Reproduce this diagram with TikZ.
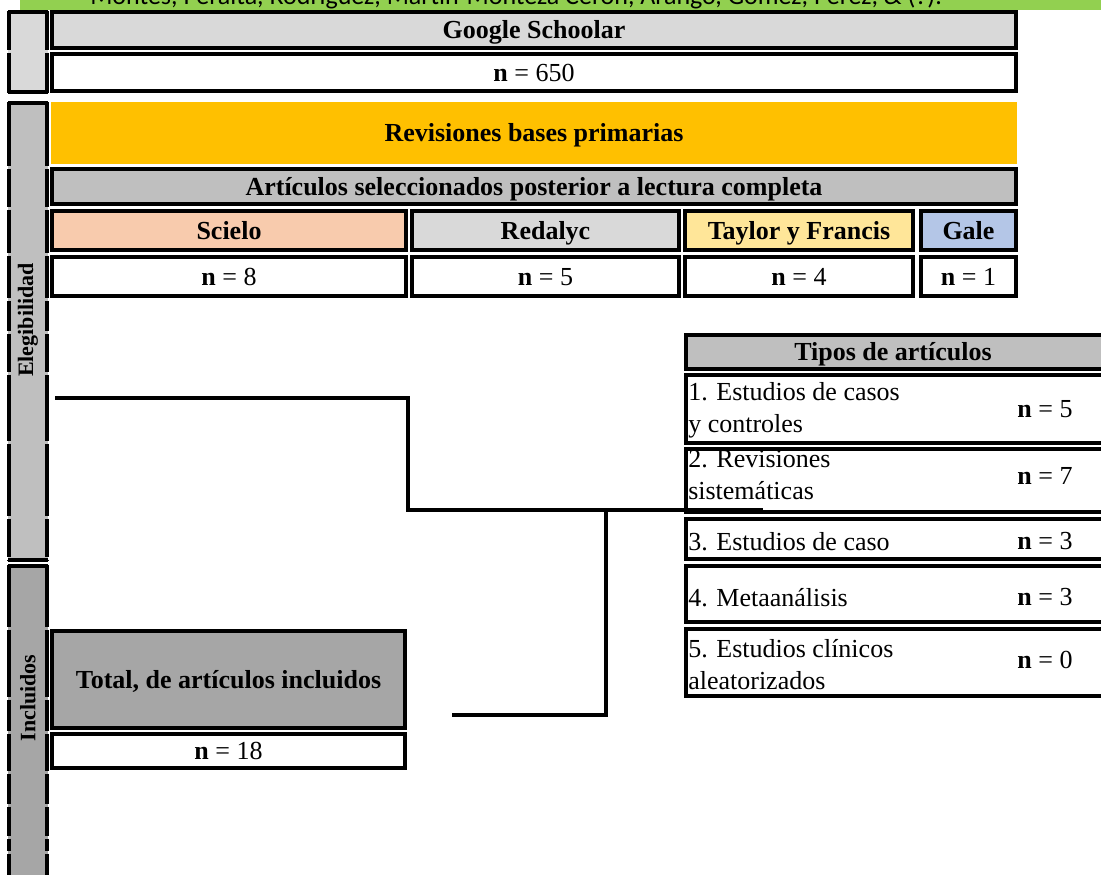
\documentclass[tikz,border=0pt]{standalone}
\usepackage{fontspec}
\setmainfont{Liberation Serif}
\newfontfamily\bannerfont{Carlito}
\usetikzlibrary{fit}
\definecolor{bannergreen}{HTML}{92D050}
\definecolor{orangehd}{HTML}{FFC000}
\definecolor{grayB}{HTML}{BFBFBF}
\definecolor{grayD}{HTML}{D9D9D9}
\definecolor{grayA}{HTML}{A6A6A6}
\definecolor{scielocol}{HTML}{F8CBAD}
\definecolor{taylorcol}{HTML}{FFE699}
\definecolor{galecol}{HTML}{B4C6E7}
\begin{document}
\begin{tikzpicture}[x=0.75pt,y=-0.75pt,
  box/.style={draw=black, line width=2.3pt, inner sep=0pt},
  plainbox/.style={inner sep=0pt},
  hd/.style={font=\fontsize{19.5}{23}\selectfont\bfseries, text height=13pt, text depth=0pt, inner sep=0pt},
  txt/.style={font=\fontsize{19.5}{24}\selectfont, text height=13pt, text depth=0pt, inner sep=0pt},
  rowtxt/.style={font=\fontsize{19.5}{24}\selectfont, align=left, anchor=west, inner sep=0pt},
  side/.style={font=\fontsize{16.5}{19}\selectfont\bfseries, rotate=90},
  conn/.style={draw=black, line width=2.5pt},
  barline/.style={draw=black, line width=2.3pt}]

\useasboundingbox (0,0) rectangle (1101,875);

% banner (cut off at the top)
\begin{scope}
\clip (0,0) rectangle (1101,875);
\fill[bannergreen] (20,0) rectangle (1101,10);
\node[anchor=base west, inner sep=0pt, font=\bannerfont\fontsize{19.5}{23}\selectfont] (banner) at (90,4)
  {Montes, Peralta, Rodríguez, Martín-Monteza Cerón, Arango, Gómez, Pérez, \& (?).};
\end{scope}

% left bars
\fill[grayD] (8,11) rectangle (48,93);
\draw[barline] (8,12) -- (48,12);
\draw[barline] (8,92) -- (48,92);
\foreach \a/\b in {11/49.5, 52.5/93} {
  \draw[barline] (9,\a) -- (9,\b);
  \draw[barline] (47,\a) -- (47,\b);
}
\fill[grayB] (8,102) rectangle (48,561);
\draw[barline] (8,103) -- (48,103);
\draw[barline] (8,560) -- (48,560);
\foreach \a/\b in {102/165.5, 168.5/206.5, 209.5/252.5, 255.5/297.5, 300.5/330.5, 333.5/371.5, 374.5/440.5, 443.5/515.5, 518.5/556.5, 559.5/561} {
  \draw[barline] (9,\a) -- (9,\b);
  \draw[barline] (47,\a) -- (47,\b);
}
\fill[grayA] (8,565) rectangle (48,880);
\draw[barline] (8,566) -- (48,566);
\foreach \a/\b in {565/626.5, 629.5/696.5, 699.5/730.5, 733.5/770.5, 773.5/803.5, 806.5/835.5, 838.5/850.5, 853.5/880} {
  \draw[barline] (9,\a) -- (9,\b);
  \draw[barline] (47,\a) -- (47,\b);
}
\node[side] (eleg) at (28,320) {Elegibilidad};
\node[side] (incl) at (28,698) {Incluidos};

% identification
\node[box, fill=grayD, fit={(52,12) (1016,48)}] (google) {};
\node[hd] (googleT) at (google.center) {Google Schoolar};
\node[box, fit={(52,54) (1016,91)}] (n650) {};
\node[txt] (n650T) at (n650.center) {\textbf{n} = 650};

% eligibility
\node[plainbox, fill=orangehd, fit={(51,102) (1017,164)}] (rev) {};
\node[hd] (revT) at (rev.center) {Revisiones bases primarias};
\node[box, fill=grayB, fit={(52,169) (1016,204)}] (art) {};
\node[hd] (artT) at (art.center) {Artículos seleccionados posterior a lectura completa};

\node[box, fill=scielocol, fit={(52,211) (406,250)}] (scielo) {};
\node[hd] (scieloT) at (scielo.center) {Scielo};
\node[box, fill=grayD, fit={(412,211) (679,250)}] (redalyc) {};
\node[hd] (redalycT) at (redalyc.center) {Redalyc};
\node[box, fill=taylorcol, fit={(685,211) (913,250)}] (taylor) {};
\node[hd] (taylorT) at (taylor.center) {Taylor y Francis};
\node[box, fill=galecol, fit={(921,211) (1016,250)}] (gale) {};
\node[hd] (galeT) at (gale.center) {Gale};

\node[box, fit={(52,257) (406,296)}] (nscielo) {};
\node[txt] at (nscielo.center) {\textbf{n} = 8};
\node[box, fit={(412,257) (679,296)}] (nredalyc) {};
\node[txt] at (nredalyc.center) {\textbf{n} = 5};
\node[box, fit={(685,257) (913,296)}] (ntaylor) {};
\node[txt] at (ntaylor.center) {\textbf{n} = 4};
\node[box, fit={(921,257) (1016,296)}] (ngale) {};
\node[txt] at (ngale.center) {\textbf{n} = 1};

% types of articles
\node[box, fill=grayB, fit={(686,335) (1115,369)}] (tipos) {};
\node[hd] (tiposT) at (893,352) {Tipos de artículos};
\node[box, fit={(686,375) (1115,443)}] (r1) {};
\node[box, fit={(686,449) (1115,512)}] (r2) {};
\node[box, fit={(686,519) (1115,559)}] (r3) {};
\node[box, fit={(686,566) (1115,622)}] (r4) {};
\node[box, fit={(686,629) (1115,696)}] (r5) {};
\node[rowtxt] (r1T) at (688,410) {1. Estudios de casos\\y controles};
\node[rowtxt] (r2T) at (688,475) {2. Revisiones\\sistemáticas};
\node[rowtxt] (r3T) at (688,542) {3. Estudios de caso};
\node[rowtxt] (r4T) at (688,598) {4. Metaanálisis};
\node[rowtxt] (r5T) at (688,665) {5. Estudios clínicos\\aleatorizados};
\node[txt] (r1n) at (1045,409) {\textbf{n} = 5};
\node[txt] (r2n) at (1045,476) {\textbf{n} = 7};
\node[txt] (r3n) at (1045,541) {\textbf{n} = 3};
\node[txt] (r4n) at (1045,597) {\textbf{n} = 3};
\node[txt] (r5n) at (1045,660) {\textbf{n} = 0};

% included
\node[box, fill=grayA, fit={(52,631) (405,728)}] (total) {};
\node[hd] (totalT) at (total.center) {Total, de artículos incluidos};
\node[box, fit={(52,734) (405,768)}] (n18) {};
\node[txt] (n18T) at (n18.center) {\textbf{n} = 18};

% connectors
\coordinate (aStart) at (55,398);
\coordinate (aBend1) at (408,398);
\coordinate (aBend2) at (408,510);
\coordinate (aEnd) at (763,510);
\draw[conn] (aStart) -- (aBend1) -- (aBend2) -- (aEnd);
\coordinate (bStart) at (606,510);
\coordinate (bEnd) at (452,715);
\draw[conn] (bStart) |- (bEnd);
\end{tikzpicture}
\end{document}
